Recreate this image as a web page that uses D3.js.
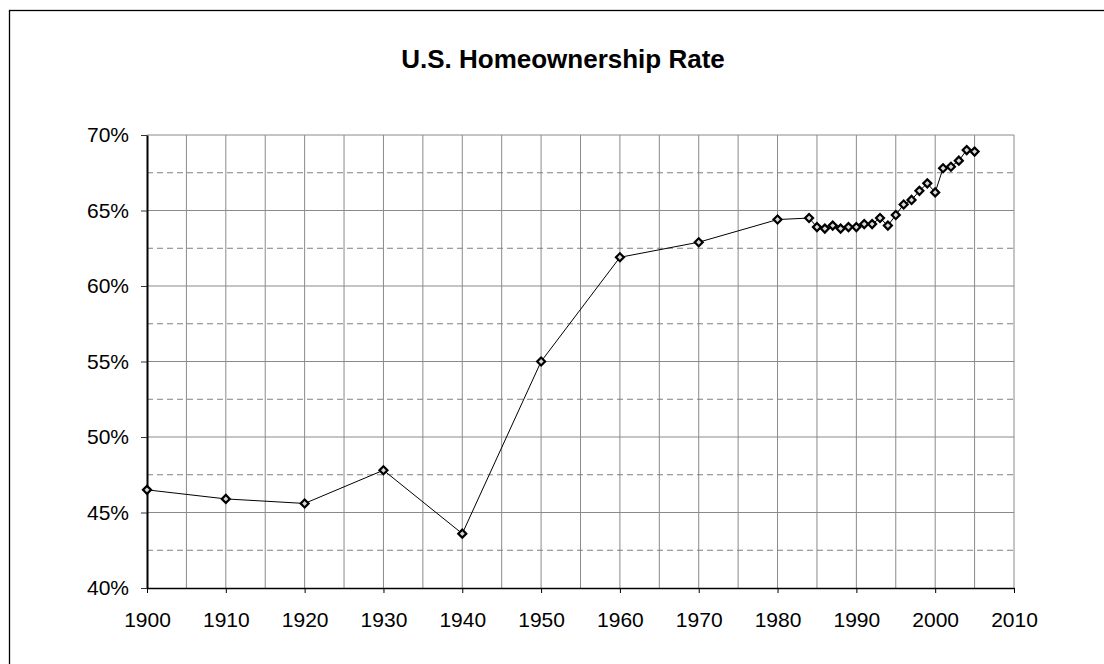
<!DOCTYPE html>
<html>
<head>
<meta charset="utf-8">
<script src="https://cdn.jsdelivr.net/npm/d3@7"></script>
<style>
  body { margin: 0; background: #fff; }
  svg { display: block; font-family: Arial, "Liberation Sans", sans-serif; }
</style>
</head>
<body>
<div id="chart"></div>
<script>
// data
const years = [1900, 1910, 1920, 1930, 1940, 1950, 1960, 1970, 1980,
  1984, 1985, 1986, 1987, 1988, 1989, 1990, 1991, 1992, 1993, 1994,
  1995, 1996, 1997, 1998, 1999, 2000, 2001, 2002, 2003, 2004, 2005];
const rates = [46.5, 45.9, 45.6, 47.8, 43.6, 55.0, 61.9, 62.9, 64.4,
  64.5, 63.9, 63.8, 64.0, 63.8, 63.9, 63.9, 64.1, 64.1, 64.5, 64.0,
  64.7, 65.4, 65.7, 66.3, 66.8, 66.2, 67.8, 67.9, 68.3, 69.0, 68.9];
const xTicks = [1900, 1910, 1920, 1930, 1940, 1950, 1960, 1970, 1980, 1990, 2000, 2010];
const yTicks = [40, 45, 50, 55, 60, 65, 70];
const yMinor = [42.5, 47.5, 52.5, 57.5, 62.5, 67.5];
const xGrid = d3.range(1905, 2011, 5);

const data = years.map((y, i) => ({ year: y, rate: rates[i] }));

const W = 1104, H = 664;
const m = { left: 147, right: 1014, top: 135, bottom: 588 };

const svg = d3.select("#chart").append("svg")
  .attr("width", W).attr("height", H);

// outer chart frame (runs off the right/bottom edge)
svg.append("rect")
  .attr("x", 9.5).attr("y", 10.5)
  .attr("width", 1300).attr("height", 1000)
  .attr("fill", "none").attr("stroke", "#000").attr("stroke-width", 1.3);

const x = d3.scaleLinear().domain([1900, 2010]).range([m.left, m.right]);
const y = d3.scaleLinear().domain([40, 70]).range([m.bottom, m.top]);

// grid
const grid = svg.append("g");
grid.selectAll("line.vg").data(xGrid).enter().append("line")
  .attr("class", "vg")
  .attr("x1", d => x(d)).attr("x2", d => x(d))
  .attr("y1", m.top).attr("y2", m.bottom)
  .attr("stroke", "#8a8a8a").attr("stroke-width", 1);
grid.selectAll("line.hm").data(yMinor).enter().append("line")
  .attr("class", "hm")
  .attr("x1", m.left).attr("x2", m.right)
  .attr("y1", d => y(d)).attr("y2", d => y(d))
  .attr("stroke", "#808080").attr("stroke-width", 1)
  .attr("stroke-dasharray", "6,4");
grid.selectAll("line.hg").data(yTicks.slice(1)).enter().append("line")
  .attr("class", "hg")
  .attr("x1", m.left).attr("x2", m.right)
  .attr("y1", d => y(d)).attr("y2", d => y(d))
  .attr("stroke", "#8a8a8a").attr("stroke-width", 1);

// axes
const xAxis = svg.append("g")
  .attr("transform", `translate(0,${m.bottom})`)
  .call(d3.axisBottom(x).tickValues(xTicks).tickFormat(d3.format("d"))
    .tickSize(5).tickPadding(19).tickSizeOuter(0));
xAxis.select(".domain").attr("stroke", "#000").attr("stroke-width", 1.5);
xAxis.selectAll(".tick line").attr("stroke", "#000");
xAxis.selectAll("text").attr("font-size", 21).attr("fill", "#000");

const yAxis = svg.append("g")
  .attr("transform", `translate(${m.left},0)`)
  .call(d3.axisLeft(y).tickValues(yTicks).tickFormat(d => d + "%")
    .tickSize(6).tickPadding(12).tickSizeOuter(0));
yAxis.select(".domain").attr("stroke", "#000").attr("stroke-width", 2);
yAxis.selectAll(".tick line").attr("stroke", "#333");
yAxis.selectAll("text").attr("font-size", 21).attr("fill", "#000");

// series
const line = d3.line().x(d => x(d.year)).y(d => y(d.rate));
svg.append("path").datum(data)
  .attr("d", line)
  .attr("fill", "none").attr("stroke", "#000").attr("stroke-width", 1);

svg.selectAll("path.mk").data(data).enter().append("path")
  .attr("class", "mk")
  .attr("d", d3.symbol().type(d3.symbolSquare).size(32))
  .attr("transform", d => `translate(${x(d.year)},${y(d.rate)}) rotate(45)`)
  .attr("fill", "#d8d8d8").attr("stroke", "#000").attr("stroke-width", 2.2);

// title
svg.append("text")
  .attr("x", 563).attr("y", 68)
  .attr("text-anchor", "middle")
  .attr("font-size", 26).attr("font-weight", "bold")
  .text("U.S. Homeownership Rate");
</script>
</body>
</html>
